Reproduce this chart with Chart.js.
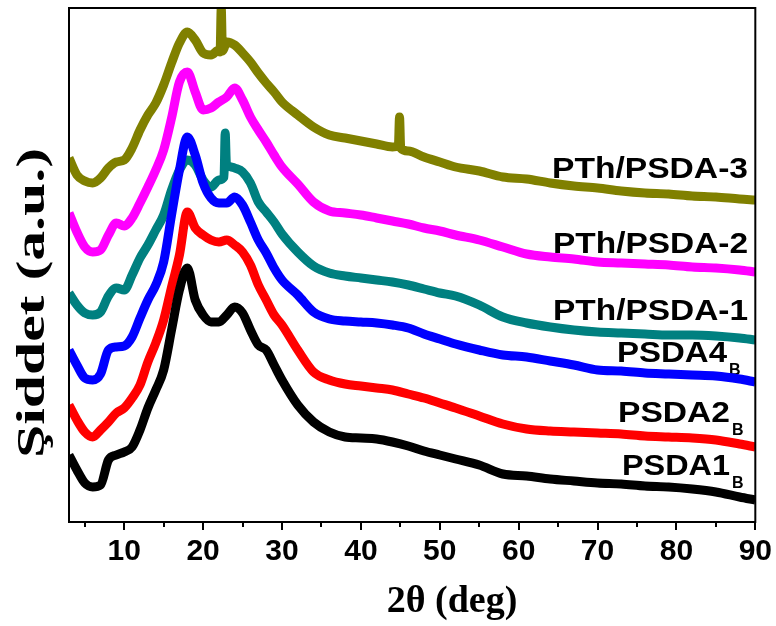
<!DOCTYPE html>
<html>
<head>
<meta charset="utf-8">
<script src="https://cdn.jsdelivr.net/npm/chart.js@4.4.1/dist/chart.umd.min.js"></script>
<style>
  html, body { margin: 0; padding: 0; background: #fff; }
  #wrap { width: 776px; height: 626px; }
</style>
</head>
<body>
<div id="wrap"><canvas id="xrdChart" width="776" height="626"></canvas></div>
<script>
// 2-theta grid (deg) and stacked intensities (a.u., offset per sample)
const angles = [3,4,5,6,7,8,9,10,11,12,13,14,15,16,17,18,19,20,21,22,23,24,25,26,27,28,29,30,
    32,34,36,38,40,42,44,46,48,50,52,55,58,61,64,67,70,73,76,79,82,85,88,90];

const psda1 = [67,52,39,35,37,62,67,70,75,92,114,132,152,192,232,254,222,207,200,200,207,215,209,192,177,172,157,142,
    117,100,90,85,84,83,80,76,71,67,63,57,48,46,43,41,39,38,36,35,33,30,25,22];
const psda2 = [117,102,90,85,92,100,109,114,124,137,160,179,202,235,267,310,294,287,282,280,282,277,270,257,237,222,207,197,
    172,150,142,138,136,134,132,128,124,119,114,106,98,93,91,90,89,88,86,85,84,82,78,75];
const psda4 = [172,157,144,142,148,172,175,176,185,204,222,237,260,307,352,385,367,339,324,319,319,325,317,300,282,269,254,242,
    227,210,203,201,200,199,197,194,188,183,178,172,167,165,161,157,152,151,149,148,147,146,143,140];
const pth1 = [229,217,209,207,210,226,234,232,247,264,277,292,307,332,352,362,357,342,335,342,357,354,350,339,320,310,300,288,
    270,256,249,246,244,242,240,237,233,229,226,217,205,199,195,192,190,189,188,187,187,186,184,182];
const pth2 = [309,290,275,270,272,287,299,296,304,319,335,352,372,404,440,450,430,412,414,420,425,434,422,405,392,380,367,355,
    338,320,311,309,307,304,301,298,294,291,287,282,275,268,265,263,260,259,258,257,255,254,252,250];
const pth3 = [364,347,341,339,344,354,360,362,374,392,407,419,437,459,479,490,482,469,467,472,480,477,469,460,449,439,430,420,
    407,395,387,384,381,378,375,371,365,360,355,351,345,343,339,336,334,331,329,328,326,325,323,322];

// sharp reflections sitting on the amorphous halo: [angle, intensity]
const pth1Spikes = [[22.65, 345], [22.8, 389], [22.95, 358]];
const pth3Spikes = [[22.15, 470], [22.3, 514], [22.45, 471], [44.75, 376], [44.9, 405], [45.05, 374]];

const sampleNames = ['PSDA1', 'PSDA2', 'PSDA4', 'PTh/PSDA-1', 'PTh/PSDA-2', 'PTh/PSDA-3'];
const subscripts = ['B', 'B', 'B', '', '', ''];
const xTicks = [10, 20, 30, 40, 50, 60, 70, 80, 90];

function toPoints(values, spikes = []) {
    const pts = angles.map((a, i) => ({ x: a, y: values[i] }));
    spikes.forEach(([a, v]) => pts.push({ x: a, y: v }));
    return pts.sort((p, q) => p.x - q.x);
}

const series = [
    { data: toPoints(psda1), color: '#000000' },
    { data: toPoints(psda2), color: '#ff0000' },
    { data: toPoints(psda4), color: '#0000ff' },
    { data: toPoints(pth1, pth1Spikes), color: '#008080' },
    { data: toPoints(pth2), color: '#ff00ff' },
    { data: toPoints(pth3, pth3Spikes), color: '#808000' }
];

// label placement: right edge, baseline, fitted width
const labelSpots = [
    { right: 730, base: 475, width: 108 },
    { right: 730, base: 422, width: 112 },
    { right: 727, base: 362, width: 110 },
    { right: 748, base: 320, width: 195 },
    { right: 748, base: 253, width: 195 },
    { right: 748, base: 178, width: 196 }
];

function fittedText(ctx, text, x, y, width, align) {
    const w = ctx.measureText(text).width;
    const s = width / w;
    ctx.save();
    ctx.translate(x, y);
    ctx.scale(s, 1);
    ctx.textAlign = align;
    ctx.fillText(text, 0, 0);
    ctx.restore();
}

const decorations = {
    id: 'decorations',
    beforeDatasetsDraw(chart) {
        const ctx = chart.ctx;
        ctx.save();
        ctx.fillStyle = '#000';
        ctx.textBaseline = 'alphabetic';
        sampleNames.forEach((name, i) => {
            const spot = labelSpots[i];
            ctx.font = 'bold 30px "Liberation Sans", Arial, sans-serif';
            fittedText(ctx, name, spot.right, spot.base, spot.width, 'right');
            if (subscripts[i]) {
                ctx.font = 'bold 16px "Liberation Sans", Arial, sans-serif';
                ctx.textAlign = 'left';
                ctx.fillText(subscripts[i], spot.right + 2, spot.base + 13);
            }
        });
        ctx.restore();
    },
    afterDraw(chart) {
        const ctx = chart.ctx;
        const area = chart.chartArea;
        const xs = chart.scales.x;
        ctx.save();
        ctx.strokeStyle = '#000';
        ctx.lineWidth = 2;
        ctx.strokeRect(area.left, area.top, area.right - area.left, area.bottom - area.top);

        // minor ticks halfway between the labelled ones
        ctx.beginPath();
        for (let a = 5; a < 90; a += 10) {
            const px = Math.round(xs.getPixelForValue(a));
            ctx.moveTo(px, area.bottom);
            ctx.lineTo(px, area.bottom + 5);
        }
        ctx.stroke();

        ctx.fillStyle = '#000';
        ctx.textBaseline = 'alphabetic';
        ctx.font = 'bold 38px "Liberation Serif", "Times New Roman", serif';
        ctx.textAlign = 'center';
        ctx.fillText('2θ (deg)', 452, 612);

        ctx.translate(44, 303);
        ctx.rotate(-Math.PI / 2);
        ctx.font = 'bold 40px "Liberation Serif", "Times New Roman", serif';
        fittedText(ctx, 'Şiddet (a.u.)', 0, 0, 310, 'center');
        ctx.restore();
    }
};

new Chart(document.getElementById('xrdChart').getContext('2d'), {
    type: 'line',
    data: {
        datasets: series.map((s, i) => ({
            label: sampleNames[i] + subscripts[i],
            data: s.data,
            borderColor: s.color,
            backgroundColor: s.color,
            borderWidth: 9,
            borderJoinStyle: 'round',
            pointRadius: 0,
            cubicInterpolationMode: 'monotone',
            fill: false
        }))
    },
    options: {
        responsive: false,
        animation: false,
        layout: { padding: { left: 69, right: 19, top: 8, bottom: 0 } },
        plugins: {
            legend: { display: false },
            tooltip: { enabled: false }
        },
        scales: {
            x: {
                type: 'linear',
                min: 3,
                max: 90,
                afterFit: scale => { scale.height = 104; },
                afterBuildTicks: scale => { scale.ticks = xTicks.map(v => ({ value: v })); },
                border: { display: true, color: '#000', width: 2 },
                grid: { drawOnChartArea: false, drawTicks: true, tickLength: 8, color: '#000', lineWidth: 2 },
                ticks: {
                    color: '#000',
                    padding: 4,
                    maxRotation: 0,
                    font: { family: '"Liberation Sans", Arial, sans-serif', size: 30, weight: 'bold' }
                }
            },
            y: {
                display: false,
                min: 0,
                max: 514
            }
        }
    },
    plugins: [decorations]
});
</script>
</body>
</html>
